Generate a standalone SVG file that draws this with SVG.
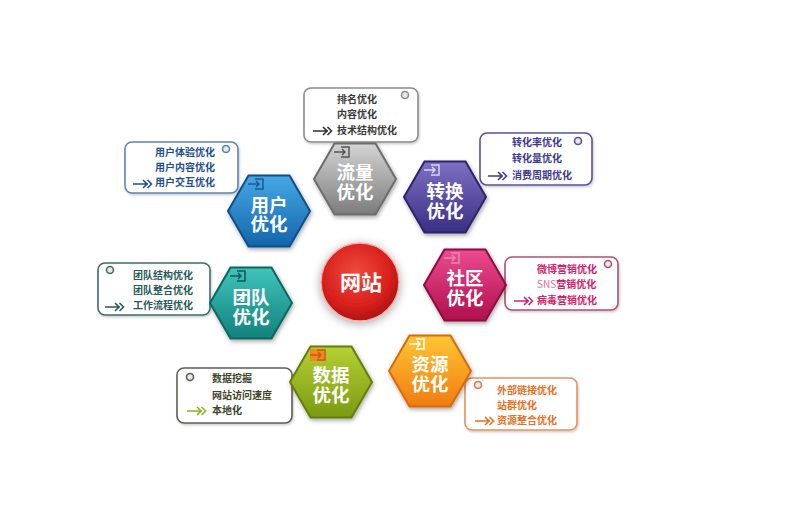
<svg xmlns="http://www.w3.org/2000/svg" xmlns:xlink="http://www.w3.org/1999/xlink" width="795" height="520" viewBox="0 0 795 520">
<style>
.box{fill:#ffffff;stroke-width:1.6}
.bt{font-family:"Noto Sans CJK SC","Noto Sans",sans-serif;font-size:10px;font-weight:bold}
.ht{font-family:"Noto Sans CJK SC","Noto Sans",sans-serif;font-size:18.5px;font-weight:bold;fill:#ffffff;text-anchor:middle}
.ring{fill:#e8e8e8;stroke-width:1.6}
.ico{fill:none;stroke-width:1.5}
.arr{fill:none;stroke:currentColor;stroke-width:1.6}
</style>
<defs>
<filter id="sh" x="-30%" y="-30%" width="160%" height="160%">
<feDropShadow dx="1" dy="2" stdDeviation="2.2" flood-color="#000" flood-opacity="0.35"/>
</filter>
<filter id="bsh" x="-20%" y="-20%" width="140%" height="140%">
<feDropShadow dx="1" dy="1.5" stdDeviation="1.2" flood-color="#000" flood-opacity="0.2"/>
</filter>
<filter id="glow" x="-40%" y="-40%" width="180%" height="180%">
<feDropShadow dx="0" dy="2" stdDeviation="5" flood-color="#000" flood-opacity="0.35"/>
</filter>
<polygon id="hex" points="-41,0 -20.5,-35.5 20.5,-35.5 41,0 20.5,35.5 -20.5,35.5"/>
<path id="arrow" class="arr" d="M0,0 H15 M10,-4 L14,0 L10,4 M14.5,-4 L18.5,0 L14.5,4"/>
<g id="icon"><path d="M-14,-32 H-6 V-22 H-14" class="ico"/><path d="M-21,-27 H-10 M-13,-30 L-10,-27 L-13,-24" class="ico"/></g>
<linearGradient id="gGray" x1="0" y1="0" x2="0" y2="1"><stop offset="0" stop-color="#d4d4d4"/><stop offset="1" stop-color="#7c7c7c"/></linearGradient>
<linearGradient id="gBlue" x1="0" y1="0" x2="0" y2="1"><stop offset="0" stop-color="#46a8e6"/><stop offset="1" stop-color="#1465aa"/></linearGradient>
<linearGradient id="gPurple" x1="0" y1="0" x2="0" y2="1"><stop offset="0" stop-color="#7e70c4"/><stop offset="1" stop-color="#3a2e82"/></linearGradient>
<linearGradient id="gTeal" x1="0" y1="0" x2="0" y2="1"><stop offset="0" stop-color="#40c4bc"/><stop offset="1" stop-color="#12827c"/></linearGradient>
<linearGradient id="gPink" x1="0" y1="0" x2="0" y2="1"><stop offset="0" stop-color="#ec4a90"/><stop offset="1" stop-color="#b0104c"/></linearGradient>
<linearGradient id="gGreen" x1="0" y1="0" x2="0" y2="1"><stop offset="0" stop-color="#b6d034"/><stop offset="1" stop-color="#7a9a12"/></linearGradient>
<linearGradient id="gOrange" x1="0" y1="0" x2="0" y2="1"><stop offset="0" stop-color="#ffc636"/><stop offset="1" stop-color="#f07c10"/></linearGradient>
<radialGradient id="gRed" cx="0.45" cy="0.38" r="0.62"><stop offset="0" stop-color="#f04a3e"/><stop offset="0.7" stop-color="#d8201c"/><stop offset="1" stop-color="#b01212"/></radialGradient>
</defs>
<rect width="795" height="520" fill="#ffffff"/>
<g id="connectors"/>

<g id="center">
<circle cx="360" cy="282" r="39" fill="url(#gRed)" stroke="#f3b0a8" stroke-width="1.5" filter="url(#glow)"/>
<text x="361" y="290" style="font-family:'Noto Sans CJK SC','Noto Sans',sans-serif;font-size:21px;font-weight:bold;fill:#ffffff;text-anchor:middle">网站</text>
</g>

<g id="node-liuliang">
<rect class="box" x="304" y="88" width="114" height="54" rx="7" stroke="#8c8c8c" filter="url(#bsh)"/>
<circle class="ring" cx="405" cy="95" r="3.5" stroke="#8c8c8c"/>
<text class="bt" fill="#3a3a3a"><tspan x="337" y="102.5">排名优化</tspan><tspan x="337" y="117.5">内容优化</tspan><tspan x="337" y="133.5">技术结构优化</tspan></text>
<use href="#arrow" x="313" y="131" color="#333333"/>
<g transform="translate(355,179)">
<use href="#hex" fill="url(#gGray)" stroke="#6c6c6c" stroke-width="2" filter="url(#sh)"/>
<use href="#icon" stroke="#555555"/>
<text class="ht"><tspan x="0" y="0">流量</tspan><tspan x="0" y="19.5">优化</tspan></text>
</g>
</g>

<g id="node-yonghu">
<rect class="box" x="125" y="142" width="113" height="51" rx="7" stroke="#5a86b0" filter="url(#bsh)"/>
<circle class="ring" cx="226" cy="149" r="3.5" stroke="#5a86b0"/>
<text class="bt" fill="#1e4f90"><tspan x="155" y="155.5">用户体验优化</tspan><tspan x="155" y="170.5">用户内容优化</tspan><tspan x="155" y="185.5">用户交互优化</tspan></text>
<use href="#arrow" x="133" y="184" color="#1e4f90"/>
<g transform="translate(269,211)">
<use href="#hex" fill="url(#gBlue)" stroke="#0e4f88" stroke-width="2" filter="url(#sh)"/>
<use href="#icon" stroke="#1a5a9a"/>
<text class="ht"><tspan x="0" y="0.5">用户</tspan><tspan x="0" y="20">优化</tspan></text>
</g>
</g>

<g id="node-zhuanhuan">
<rect class="box" x="480" y="133" width="112" height="52" rx="7" stroke="#5a50a0" filter="url(#bsh)"/>
<circle class="ring" cx="578" cy="141" r="3.5" stroke="#5a50a0"/>
<text class="bt" fill="#3e3a90"><tspan x="512" y="145.5">转化率优化</tspan><tspan x="512" y="161.5">转化量优化</tspan><tspan x="512" y="178.5">消费周期优化</tspan></text>
<use href="#arrow" x="488" y="176" color="#3e3a90"/>
<g transform="translate(445,197)">
<use href="#hex" fill="url(#gPurple)" stroke="#2e2468" stroke-width="2" filter="url(#sh)"/>
<use href="#icon" stroke="#d8d4f0"/>
<text class="ht"><tspan x="0" y="1">转换</tspan><tspan x="0" y="20.5">优化</tspan></text>
</g>
</g>

<g id="node-tuandui">
<rect class="box" x="98" y="263" width="112" height="52" rx="7" stroke="#3f6e6a" filter="url(#bsh)"/>
<circle class="ring" cx="110" cy="270" r="3.5" stroke="#3f6e6a"/>
<text class="bt" fill="#2a5a58"><tspan x="133" y="278.5">团队结构优化</tspan><tspan x="133" y="293.5">团队整合优化</tspan><tspan x="133" y="308.5">工作流程优化</tspan></text>
<use href="#arrow" x="105" y="307" color="#2a5a58"/>
<g transform="translate(251,303)">
<use href="#hex" fill="url(#gTeal)" stroke="#0e6660" stroke-width="2" filter="url(#sh)"/>
<use href="#icon" stroke="#0e5a56"/>
<text class="ht"><tspan x="0" y="1">团队</tspan><tspan x="0" y="20.5">优化</tspan></text>
</g>
</g>

<g id="node-shequ">
<rect class="box" x="505" y="257" width="113" height="53" rx="7" stroke="#b05070" filter="url(#bsh)"/>
<circle class="ring" cx="608" cy="264" r="3.5" stroke="#b05070"/>
<text class="bt" fill="#d8206a"><tspan x="537" y="272.5">微博营销优化</tspan><tspan x="537" y="287.5"><tspan font-weight="normal" fill="#e070a0">SNS</tspan>营销优化</tspan><tspan x="537" y="303.5">病毒营销优化</tspan></text>
<use href="#arrow" x="514" y="301" color="#d8206a"/>
<g transform="translate(465,285)">
<use href="#hex" fill="url(#gPink)" stroke="#8e0c3c" stroke-width="2" filter="url(#sh)"/>
<use href="#icon" stroke="#e888b0"/>
<text class="ht"><tspan x="0" y="0">社区</tspan><tspan x="0" y="19.5">优化</tspan></text>
</g>
</g>

<g id="node-shuju">
<rect class="box" x="177" y="368" width="115" height="55" rx="7" stroke="#5e5e58" filter="url(#bsh)"/>
<circle class="ring" cx="190" cy="377" r="3.5" stroke="#5e5e58"/>
<text class="bt" fill="#3e4428"><tspan x="212" y="381.5">数据挖掘</tspan><tspan x="212" y="398.5">网站访问速度</tspan><tspan x="212" y="413.5">本地化</tspan></text>
<use href="#arrow" x="187" y="411" color="#8ab420"/>
<g transform="translate(331,382)">
<use href="#hex" fill="url(#gGreen)" stroke="#647e0c" stroke-width="2" filter="url(#sh)"/>
<rect x="-21" y="-33" width="14" height="12" fill="#f08a20"/>
<use href="#icon" stroke="#c85a10"/>
<text class="ht"><tspan x="0" y="0">数据</tspan><tspan x="0" y="19.5">优化</tspan></text>
</g>
</g>

<g id="node-ziyuan">
<rect class="box" x="465" y="378" width="112" height="52" rx="7" stroke="#e89060" filter="url(#bsh)"/>
<circle class="ring" cx="478" cy="385" r="3.5" stroke="#e07a50"/>
<text class="bt" fill="#e8701e"><tspan x="497" y="393.5">外部链接优化</tspan><tspan x="497" y="408.5">站群优化</tspan><tspan x="497" y="423.5">资源整合优化</tspan></text>
<use href="#arrow" x="475" y="421" color="#e8701e"/>
<g transform="translate(430,371)">
<use href="#hex" fill="url(#gOrange)" stroke="#d86a10" stroke-width="2" filter="url(#sh)"/>
<use href="#icon" stroke="#ffffff"/>
<text class="ht"><tspan x="0" y="0">资源</tspan><tspan x="0" y="19.5">优化</tspan></text>
</g>
</g>
</svg>
